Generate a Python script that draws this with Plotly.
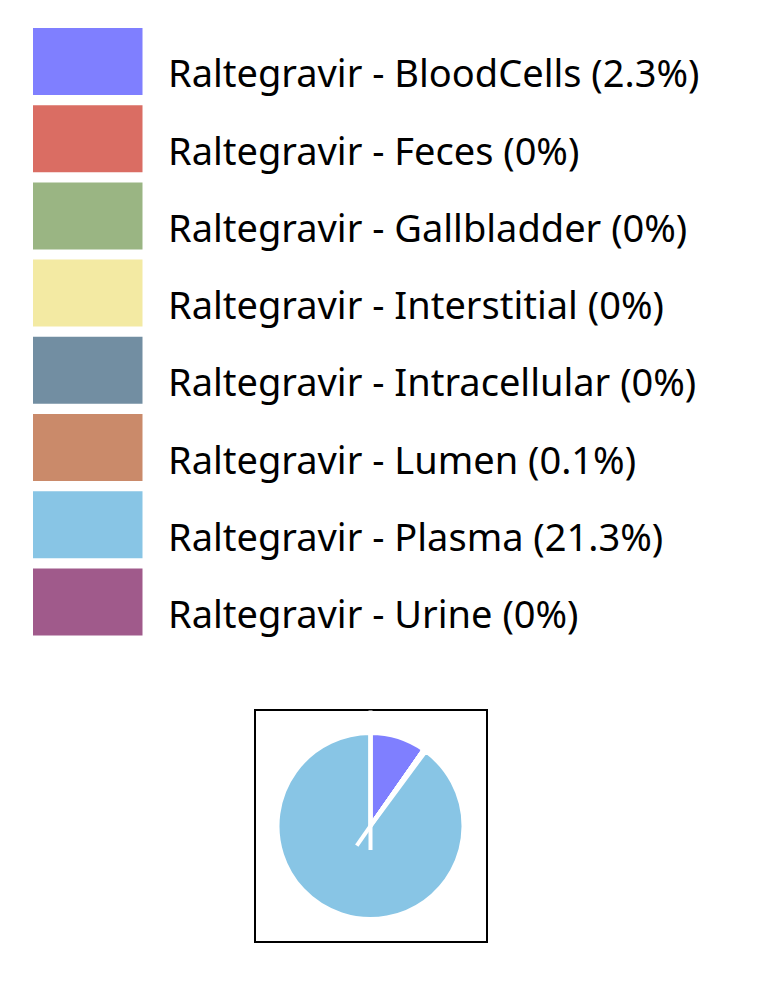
import math
import plotly.graph_objects as go

W, H = 772, 997

compartments = ["BloodCells", "Feces", "Gallbladder", "Interstitial",
                "Intracellular", "Lumen", "Plasma", "Urine"]
percent = [2.3, 0, 0, 0, 0, 0.1, 21.3, 0]
colors = ["#7f7fff", "#da6d63", "#9ab583", "#f3eaa3",
          "#728ea2", "#ca8a6a", "#88c5e5", "#a05a8b"]
drug = "Raltegravir"

labels = [f"{drug} - {c} ({p:g}%)" for c, p in zip(compartments, percent)]


def px(x):
    return x / W


def py(y):
    return 1 - y / H


fig = go.Figure()

# pie placed in its frame
cx, cy, r = 370.5, 826.0, 93.0
fig.add_trace(go.Pie(
    labels=labels,
    values=percent,
    marker=dict(colors=colors, line=dict(color="white", width=4)),
    sort=False,
    direction="clockwise",
    rotation=0,
    textinfo="none",
    hoverinfo="label",
    showlegend=False,
    domain=dict(x=[px(cx - r), px(cx + r)], y=[py(cy + r), py(cy - r)]),
))

shapes = []
annotations = []

# frame around the pie
shapes.append(dict(type="rect", xref="paper", yref="paper",
                   x0=px(255), x1=px(487), y0=py(942), y1=py(710),
                   line=dict(color="black", width=2), fillcolor="rgba(0,0,0,0)",
                   layer="below"))

# white edge strokes of the zero-width wedges (derived from cumulative values)
total = sum(percent)
rr = r - 1.5
ext = 24.0
cum = 0.0
seen = set()
for v in percent:
    start = cum
    cum += v
    if v == 0:
        ang = round(360.0 * start / total, 6) % 360
        if ang in seen:
            continue
        seen.add(ang)
        dx, dy = math.sin(math.radians(ang)), -math.cos(math.radians(ang))
        outer = rr + ext if ang == 0 else rr
        shapes.append(dict(type="line", xref="paper", yref="paper",
                           x0=px(cx - ext * dx), y0=py(cy - ext * dy),
                           x1=px(cx + outer * dx), y1=py(cy + outer * dy),
                           line=dict(color="white", width=4), layer="above"))

# custom legend
top0, step, sh = 28.0, 77.2, 67.0
for i, (lab, col) in enumerate(zip(labels, colors)):
    t = top0 + i * step
    shapes.append(dict(type="rect", xref="paper", yref="paper",
                       x0=px(33), x1=px(142.5), y0=py(t + sh), y1=py(t),
                       line=dict(width=0), fillcolor=col))
    annotations.append(dict(xref="paper", yref="paper",
                            x=px(166), y=py(t + sh / 2 + 11),
                            xanchor="left", yanchor="middle",
                            text=lab, showarrow=False,
                            font=dict(family="Noto Sans", size=38, color="black")))

fig.update_layout(
    width=W, height=H,
    margin=dict(l=0, r=0, t=0, b=0),
    paper_bgcolor="white",
    plot_bgcolor="white",
    shapes=shapes,
    annotations=annotations,
)

fig.write_html("out.html")
